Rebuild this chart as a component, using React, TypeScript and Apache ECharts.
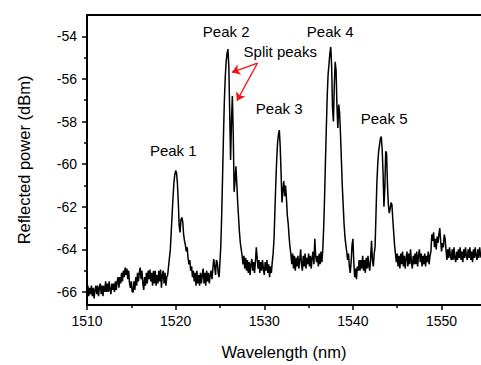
import React, { useEffect, useRef } from "react";
import * as echarts from "echarts";

// Sampling grid of the spectrum (nm)
const WAVELENGTH_START = 1510;
const WAVELENGTH_STEP = 0.1;

// Reflected power (dBm), one row per nm, 0.1 nm apart
const power1510s = [
  [-66.1, -65.7, -66.2, -65.8, -66.1, -65.7, -66.2, -65.8, -66.3, -65.9],
  [-65.7, -66.1, -65.7, -66.2, -65.8, -65.6, -66.1, -65.7, -66.2, -65.7],
  [-66.0, -65.5, -66.0, -65.6, -66.0, -65.5, -65.9, -66.1, -65.6, -65.9],
  [-65.6, -66.0, -65.5, -65.9, -65.5, -65.3, -65.8, -65.3, -65.6, -65.1],
  [-65.5, -65.0, -65.3, -64.85, -65.2, -64.9, -65.4, -65.0, -65.6, -65.8],
  [-65.5, -66.0, -66.0, -65.5, -65.9, -65.3, -65.7, -65.1, -65.5, -65.1],
  [-64.85, -65.4, -65.0, -65.6, -65.9, -65.3, -65.7, -65.1, -65.6, -65.0],
  [-65.4, -64.95, -65.5, -65.1, -65.7, -65.0, -65.6, -65.0, -65.7, -65.2],
  [-65.6, -65.0, -65.5, -64.95, -65.8, -65.2, -65.0, -65.6, -65.1, -65.7],
  [-65.3, -65.2, -64.8, -64.4, -64.0, -63.2, -62.4, -61.6, -60.9, -60.5],
];
const power1520s = [
  [-60.3, -60.4, -60.9, -61.8, -62.9, -63.2, -62.6, -62.5, -62.7, -63.3],
  [-63.6, -63.8, -64.1, -63.9, -64.4, -64.7, -64.5, -65.0, -64.8, -65.3],
  [-65.0, -65.5, -65.1, -65.7, -65.0, -65.6, -65.2, -65.7, -65.1, -65.6],
  [-65.2, -64.9, -65.6, -65.1, -65.7, -65.0, -65.5, -65.1, -65.6, -65.2],
  [-65.0, -65.4, -64.9, -64.45, -64.8, -65.2, -64.5, -64.6, -65.1, -65.3],
  [-64.6, -63.8, -62.3, -60.5, -58.6, -57.0, -55.9, -55.2, -54.8, -54.6],
  [-55.4, -57.6, -59.8, -58.0, -56.8, -58.6, -61.3, -60.8, -60.1, -60.9],
  [-61.8, -62.5, -63.2, -63.7, -64.0, -64.3, -64.7, -64.3, -64.9, -64.4],
  [-65.0, -64.5, -65.1, -64.6, -65.2, -64.7, -64.45, -65.0, -64.6, -65.1],
  [-64.6, -63.9, -64.4, -64.9, -64.5, -65.1, -64.6, -65.0, -64.5, -64.9],
];
const power1530s = [
  [-65.2, -64.6, -65.0, -64.5, -65.1, -64.7, -65.3, -64.8, -65.1, -64.6],
  [-64.2, -63.5, -62.2, -60.9, -59.8, -59.0, -58.6, -58.4, -59.2, -60.5],
  [-61.8, -61.2, -60.8, -61.5, -61.0, -61.6, -62.4, -62.8, -63.4, -63.9],
  [-64.2, -64.7, -64.2, -64.9, -64.3, -65.0, -64.4, -64.8, -64.3, -64.9],
  [-64.5, -64.0, -64.7, -65.0, -64.3, -64.8, -64.2, -64.9, -64.4, -64.7],
  [-64.2, -64.8, -64.3, -64.9, -64.4, -64.1, -64.7, -63.5, -64.3, -64.6],
  [-64.3, -64.8, -64.2, -64.7, -64.1, -64.6, -64.0, -63.0, -61.6, -59.9],
  [-58.3, -56.8, -55.8, -55.3, -54.8, -54.5, -55.4, -57.4, -58.0, -56.3],
  [-55.2, -55.6, -57.3, -58.3, -57.2, -57.6, -58.6, -59.8, -61.0, -61.9],
  [-62.8, -63.4, -63.8, -64.1, -64.5, -64.2, -64.8, -65.1, -64.6, -63.8],
];
const power1540s = [
  [-63.5, -64.6, -65.3, -64.9, -65.4, -64.8, -65.0, -64.5, -65.0, -64.5],
  [-64.9, -64.3, -65.0, -64.5, -65.1, -64.4, -64.9, -64.3, -64.8, -65.0],
  [-64.4, -63.6, -64.5, -64.8, -64.2, -63.9, -62.4, -60.9, -60.0, -59.4],
  [-59.1, -58.8, -58.7, -59.3, -60.4, -62.0, -61.1, -59.4, -59.5, -61.0],
  [-61.9, -62.3, -62.1, -61.8, -61.9, -62.6, -63.2, -63.8, -64.2, -64.6],
  [-64.2, -64.8, -64.3, -64.9, -64.2, -64.7, -64.1, -64.8, -64.3, -64.9],
  [-64.4, -64.1, -64.8, -64.2, -64.7, -64.0, -64.6, -64.9, -64.3, -64.7],
  [-64.2, -64.7, -64.1, -64.8, -64.3, -64.0, -64.6, -64.2, -64.8, -64.3],
  [-64.7, -64.2, -64.8, -64.3, -64.6, -64.1, -64.7, -64.3, -64.1, -63.3],
  [-63.6, -63.2, -63.9, -63.5, -64.0, -63.4, -63.7, -63.3, -63.0, -63.6],
];
const power1550s = [
  [-64.1, -63.7, -63.9, -63.3, -63.5, -64.0, -64.5, -64.0, -64.4, -63.9],
  [-64.3, -64.5, -64.0, -64.5, -63.9, -64.4, -64.6, -64.1, -64.5, -64.0],
  [-64.4, -63.9, -64.5, -64.1, -64.6, -64.0, -64.4, -63.9, -64.3, -64.5],
  [-64.0, -64.4, -63.9, -64.5, -64.1, -64.6, -64.0, -64.4, -63.9, -64.3],
  [-64.5, -64.0, -64.4, -63.9, -64.3, -64.4],
];

// Axis ticks
const xMajorTicks = [1510, 1520, 1530, 1540, 1550];
const xMinorTicks = [1515, 1525, 1535, 1545];
const yMajorTicks = [-66, -64, -62, -60, -58, -56, -54];
const yMinorTicks = [-65, -63, -61, -59, -57, -55];

// Text annotations [wavelength, power, text]
const peakLabels: [number, number, string][] = [
  [1519.73, -59.35, "Peak 1"],
  [1525.7, -53.78, "Peak 2"],
  [1531.8, -54.72, "Split peaks"],
  [1531.68, -57.41, "Peak 3"],
  [1537.43, -53.77, "Peak 4"],
  [1543.52, -57.84, "Peak 5"],
];

// Red arrows: from "Split peaks" to the split peaks of Peak 2
const arrowFrom: [number, number] = [1529.23, -55.26];
const arrowTips: [number, number][] = [
  [1526.35, -55.69],
  [1526.91, -57.03],
];

const X_MIN = 1510;
const X_MAX = 1554.45;
const Y_MIN = -66.61;
const Y_MAX = -53.0;

const FONT = "'Liberation Sans', Arial, sans-serif";

export default function App() {
  const ref = useRef<HTMLDivElement>(null);

  useEffect(() => {
    if (!ref.current) return;
    const chart = echarts.init(ref.current, null, { renderer: "svg" });

    const allPower = [
      ...power1510s,
      ...power1520s,
      ...power1530s,
      ...power1540s,
      ...power1550s,
    ].flat();
    const spectrum = allPower.map((v, i) => [
      Math.round((WAVELENGTH_START + i * WAVELENGTH_STEP) * 100) / 100,
      v,
    ]);

    const axisLineStyle = { color: "#000", width: 2 };
    const plain = (v: number) => String(v);

    chart.setOption({
      animation: false,
      backgroundColor: "#fff",
      grid: { left: 87, right: 0, top: 15, bottom: 55, containLabel: false },
      xAxis: [
        {
          type: "value",
          position: "bottom",
          min: X_MIN,
          max: X_MAX,
          name: "Wavelength (nm)",
          nameLocation: "middle",
          nameGap: 38,
          nameTextStyle: { fontFamily: FONT, fontSize: 16.5, color: "#000" },
          axisLine: { show: true, lineStyle: axisLineStyle },
          axisTick: {
            show: true,
            customValues: xMajorTicks,
            length: 5,
            inside: false,
            lineStyle: { color: "#000", width: 1.5 },
          },
          axisLabel: {
            customValues: xMajorTicks,
            formatter: plain,
            margin: 9,
            fontFamily: FONT,
            fontSize: 14,
            color: "#000",
          },
          splitLine: { show: false },
        },
        {
          type: "value",
          position: "bottom",
          offset: 0,
          min: X_MIN,
          max: X_MAX,
          axisLine: { show: false },
          axisTick: {
            show: true,
            customValues: xMinorTicks,
            length: 3,
            lineStyle: { color: "#000", width: 1.5 },
          },
          axisLabel: { show: false },
          splitLine: { show: false },
        },
        {
          type: "value",
          position: "top",
          min: X_MIN,
          max: X_MAX,
          axisLine: { show: true, lineStyle: axisLineStyle },
          axisTick: { show: false },
          axisLabel: { show: false },
          splitLine: { show: false },
        },
      ],
      yAxis: [
        {
          type: "value",
          position: "left",
          min: Y_MIN,
          max: Y_MAX,
          name: "Reflected power (dBm)",
          nameLocation: "middle",
          nameGap: 55,
          nameTextStyle: { fontFamily: FONT, fontSize: 16.5, color: "#000" },
          axisLine: { show: true, lineStyle: axisLineStyle },
          axisTick: {
            show: true,
            customValues: yMajorTicks,
            length: 5,
            lineStyle: { color: "#000", width: 1.5 },
          },
          axisLabel: {
            customValues: yMajorTicks,
            formatter: plain,
            margin: 10,
            fontFamily: FONT,
            fontSize: 14,
            color: "#000",
          },
          splitLine: { show: false },
        },
        {
          type: "value",
          position: "left",
          offset: 0,
          min: Y_MIN,
          max: Y_MAX,
          axisLine: { show: false },
          axisTick: {
            show: true,
            customValues: yMinorTicks,
            length: 3,
            lineStyle: { color: "#000", width: 1.5 },
          },
          axisLabel: { show: false },
          splitLine: { show: false },
        },
      ],
      series: [
        {
          type: "line",
          xAxisIndex: 0,
          yAxisIndex: 0,
          data: spectrum,
          showSymbol: false,
          symbol: "none",
          lineStyle: { color: "#000", width: 1.5 },
          silent: true,
          z: 3,
          markLine: {
            silent: true,
            animation: false,
            symbol: ["none", "arrow"],
            symbolSize: 8,
            label: { show: false },
            lineStyle: { color: "#ee1111", width: 1.2, type: "solid" },
            itemStyle: { color: "#ee1111" },
            data: arrowTips.map((tip) => [
              { coord: arrowFrom, symbol: "none" },
              { coord: tip, symbol: "arrow", symbolSize: 8 },
            ]),
          },
        },
        {
          type: "scatter",
          xAxisIndex: 0,
          yAxisIndex: 0,
          symbolSize: 0,
          silent: true,
          itemStyle: { color: "#000", opacity: 1 },
          data: peakLabels.map((p) => ({ value: [p[0], p[1]], name: p[2] })),
          label: {
            show: true,
            position: "inside",
            formatter: (p: any) => p.name,
            fontFamily: FONT,
            fontSize: 15,
            color: "#000",
            opacity: 1,
            textBorderWidth: 0,
            textBorderColor: "transparent",
          },
          z: 5,
        },
      ],
    });

    return () => chart.dispose();
  }, []);

  return (
    <div
      ref={ref}
      style={{ position: "fixed", left: 0, top: 0, width: 481, height: 365 }}
    />
  );
}
